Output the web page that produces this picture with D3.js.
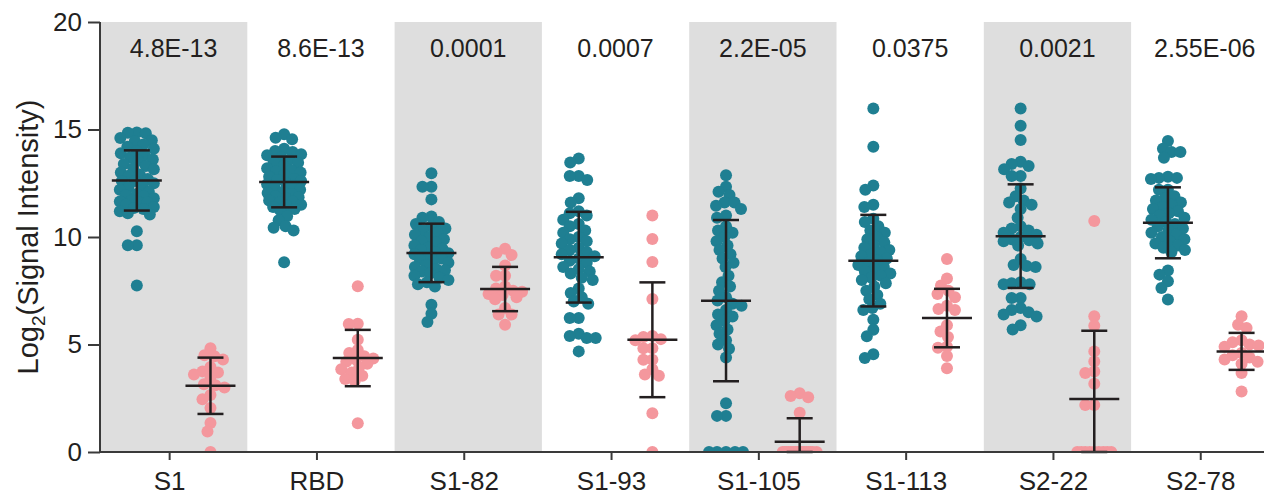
<!DOCTYPE html>
<html>
<head>
<meta charset="utf-8">
<script src="https://cdn.jsdelivr.net/npm/d3@7"></script>
<style>
  body { margin: 0; background: #fff; }
  text { font-family: "Liberation Sans", Arial, sans-serif; fill: #231f20; }
</style>
</head>
<body>
<div id="chart"></div>
<script>
// groups + p-values shown at top
var groups = ["S1", "RBD", "S1-82", "S1-93", "S1-105", "S1-113", "S2-22", "S2-78"];
var pValues = ["4.8E-13", "8.6E-13", "0.0001", "0.0007", "2.2E-05", "0.0375", "0.0021", "2.55E-06"];
var yTicks = [0, 5, 10, 15, 20];

// teal points (one list per group)
var tealS1 = [14.86, 14.85, 14.83, 14.6, 14.5, 14.45, 14.3, 14.2, 14.1, 14.0, 13.9, 13.8, 13.7, 13.6, 13.55, 13.4, 13.3, 13.2, 13.15, 13.0, 12.9, 12.85, 12.7, 12.6, 12.6, 12.5, 12.4, 12.3, 12.2, 12.1, 12.0, 11.95, 11.9, 11.8, 11.7, 11.65, 11.6, 11.6, 11.5, 11.4, 11.35, 11.3, 11.2, 11.1, 11.05, 10.27, 9.62, 9.62, 7.74];
var tealRBD = [14.78, 14.62, 14.55, 14.1, 14.0, 13.95, 13.85, 13.8, 13.7, 13.6, 13.5, 13.45, 13.3, 13.2, 13.1, 13.05, 13.0, 12.9, 12.8, 12.7, 12.65, 12.6, 12.5, 12.45, 12.4, 12.3, 12.2, 12.1, 12.05, 12.0, 11.9, 11.85, 11.8, 11.7, 11.65, 11.6, 11.5, 11.45, 11.4, 11.3, 11.25, 10.97, 10.78, 10.5, 10.43, 10.3, 8.83];
var tealS182 = [12.96, 12.34, 12.34, 11.75, 10.95, 10.9, 10.7, 10.6, 10.5, 10.4, 10.3, 10.2, 10.1, 10.0, 9.9, 9.8, 9.75, 9.6, 9.5, 9.45, 9.4, 9.3, 9.25, 9.2, 9.1, 9.0, 8.95, 8.9, 8.8, 8.7, 8.6, 8.5, 8.45, 8.4, 8.3, 8.2, 8.1, 8.0, 7.9, 7.8, 7.7, 6.85, 6.43, 6.05];
var tealS193 = [13.65, 13.46, 12.84, 12.84, 12.65, 11.8, 11.6, 11.2, 11.1, 11.0, 10.8, 10.6, 10.5, 10.3, 10.2, 10.0, 9.9, 9.8, 9.7, 9.5, 9.4, 9.3, 9.2, 9.1, 9.0, 8.9, 8.8, 8.6, 8.5, 8.4, 8.3, 8.1, 8.0, 7.6, 7.4, 7.2, 7.0, 6.9, 6.23, 6.23, 5.5, 5.4, 5.3, 5.3, 4.68];
var tealS1105 = [12.87, 12.34, 12.1, 11.95, 11.6, 11.6, 11.45, 11.3, 11.0, 10.9, 10.5, 10.3, 10.2, 10.0, 9.8, 9.6, 9.4, 9.2, 9.0, 8.8, 8.6, 8.2, 7.9, 7.7, 7.5, 7.2, 7.05, 6.9, 6.8, 6.6, 6.4, 6.3, 6.1, 5.9, 5.7, 5.5, 5.2, 5.0, 4.8, 4.4, 2.27, 1.68, 1.68, 0, 0, 0, 0, 0];
var tealS1113 = [15.98, 14.2, 12.4, 12.2, 11.5, 11.4, 10.85, 10.7, 10.5, 10.3, 10.2, 10.0, 9.9, 9.75, 9.6, 9.5, 9.4, 9.3, 9.2, 9.1, 9.0, 8.9, 8.8, 8.7, 8.6, 8.5, 8.4, 8.3, 8.2, 8.1, 8.0, 7.85, 7.7, 7.5, 7.3, 7.1, 6.9, 6.7, 6.6, 6.15, 5.69, 5.38, 4.55, 4.37];
var tealS222 = [15.98, 15.17, 14.51, 13.5, 13.4, 13.3, 13.15, 12.84, 12.84, 12.26, 11.9, 11.7, 11.6, 11.5, 11.3, 10.9, 10.5, 10.4, 10.3, 10.2, 10.1, 10.0, 9.9, 9.85, 9.8, 9.7, 9.6, 8.98, 8.7, 8.65, 8.6, 7.9, 7.85, 7.8, 7.8, 7.16, 7.16, 6.7, 6.6, 6.5, 6.4, 6.3, 5.9, 5.7];
var tealS278 = [14.47, 14.11, 13.95, 13.95, 13.69, 12.8, 12.75, 12.75, 12.7, 12.2, 12.2, 11.9, 11.8, 11.7, 11.6, 11.5, 11.4, 11.3, 11.2, 11.1, 11.0, 10.9, 10.8, 10.7, 10.6, 10.5, 10.4, 10.3, 10.2, 10.1, 10.0, 9.9, 9.8, 9.7, 9.6, 9.5, 9.4, 9.3, 8.44, 8.25, 7.94, 7.63, 7.09];

// pink points
var pinkS1 = [4.83, 4.5, 4.45, 4.3, 3.95, 3.75, 3.7, 3.6, 3.45, 3.15, 3.1, 3.0, 2.65, 2.45, 2.05, 1.35, 0.95, 0];
var pinkRBD = [7.71, 5.97, 5.95, 5.22, 4.75, 4.6, 4.45, 4.35, 4.3, 4.2, 4.1, 3.95, 3.85, 3.7, 3.55, 3.4, 3.3, 1.34];
var pinkS182 = [9.45, 9.26, 9.16, 8.67, 8.2, 8.2, 7.7, 7.6, 7.5, 7.45, 7.35, 7.3, 7.2, 7.1, 6.7, 6.39, 6.39, 5.92];
var pinkS193 = [11.0, 9.91, 8.84, 7.12, 5.4, 5.35, 5.25, 5.2, 4.83, 4.83, 4.29, 4.29, 3.85, 3.6, 3.55, 1.8, 0];
var pinkS1105 = [2.73, 2.6, 2.55, 1.83, 0, 0, 0, 0, 0, 0, 0, 0, 0, 0, 0, 0, 0, 0, 0, 0];
var pinkS1113 = [8.98, 8.07, 7.74, 7.5, 7.35, 7.2, 6.8, 6.65, 6.6, 5.9, 5.6, 5.35, 4.9, 4.85, 4.47, 3.9];
var pinkS222 = [10.74, 6.31, 5.87, 4.68, 4.21, 3.74, 3.67, 3.17, 2.19, 2.19, 0, 0, 0, 0, 0, 0, 0, 0, 0];
var pinkS278 = [6.31, 5.92, 5.77, 5.2, 5.1, 5.0, 4.95, 4.9, 4.6, 4.5, 4.4, 4.3, 4.2, 4.1, 3.67, 2.81];

// mean and SD
var tealMean = [12.63, 12.56, 9.26, 9.06, 7.04, 8.90, 10.04, 10.66];
var tealSD = [1.40, 1.18, 1.36, 2.11, 3.75, 2.13, 2.41, 1.65];
var pinkMean = [3.08, 4.37, 7.58, 5.22, 0.48, 6.23, 2.46, 4.68];
var pinkSD = [1.31, 1.31, 1.03, 2.67, 1.09, 1.36, 3.18, 0.86];

var tealAll = [tealS1, tealRBD, tealS182, tealS193, tealS1105, tealS1113, tealS222, tealS278];
var pinkAll = [pinkS1, pinkRBD, pinkS182, pinkS193, pinkS1105, pinkS1113, pinkS222, pinkS278];

var svgWidth = 1264;
var svgHeight = 497;
var plotLeft = 100, plotTop = 22, plotBottom = 452;
var groupW = 147.3;
var teal = "#1f7f92", pink = "#f4979d";
var r = 6;

var svg = d3.select("#chart")
  .append("svg")
    .attr("width", svgWidth)
    .attr("height", svgHeight);

var x = d3.scaleBand()
  .domain(groups)
  .range([plotLeft, plotLeft + groupW * groups.length])
  .padding(0);

var y = d3.scaleLinear()
  .domain([0, 20])
  .range([plotBottom, plotTop]);

// shaded bands on every other group
svg.selectAll(".band")
  .data(groups.filter((g, i) => i % 2 == 0))
  .enter()
  .append("rect")
    .attr("x", d => x(d))
    .attr("y", y(20))
    .attr("width", x.bandwidth())
    .attr("height", y(0) - y(20))
    .attr("fill", "#dedede");

// p values
svg.selectAll(".pval")
  .data(groups)
  .enter()
  .append("text")
    .attr("x", d => x(d) + x.bandwidth() / 2)
    .attr("y", 57)
    .attr("text-anchor", "middle")
    .style("font-size", "25px")
    .text((d, i) => pValues[i]);

svg.append("clipPath")
  .attr("id", "plotclip")
  .append("rect")
    .attr("x", plotLeft)
    .attr("y", 0)
    .attr("width", svgWidth)
    .attr("height", y(0));

// beeswarm: push each dot sideways until it clears the others,
// but never wider than maxW - then just take the least crowded spot
function swarm(values, cx) {
  var minD = 9, maxW = 17;
  var placed = [];
  values.slice().sort((a, b) => b - a).forEach(function(v) {
    var py = y(v);
    var best = 0, bestGap = -1;
    for (var k = 0; k <= maxW * 4; k++) {
      var off = (k % 2 == 0 ? 1 : -1) * Math.ceil(k / 2) * 0.5;
      var gap = d3.min(placed, p => Math.hypot(p.dx - off, p.y - py));
      if (gap === undefined || gap >= minD) { best = off; break; }
      if (gap > bestGap + 0.01) { bestGap = gap; best = off; }
    }
    placed.push({dx: best, y: py});
  });
  return placed.map(p => ({x: cx + p.dx, y: p.y}));
}

var dots = svg.append("g").attr("clip-path", "url(#plotclip)");
groups.forEach(function(g, i) {
  var cT = x(g) + x.bandwidth() * 0.25;
  var cP = x(g) + x.bandwidth() * 0.75;
  dots.selectAll(null)
    .data(swarm(tealAll[i], cT))
    .enter()
    .append("circle")
      .attr("cx", d => d.x)
      .attr("cy", d => d.y)
      .attr("r", r)
      .attr("fill", teal);
  dots.selectAll(null)
    .data(swarm(pinkAll[i], cP))
    .enter()
    .append("circle")
      .attr("cx", d => d.x)
      .attr("cy", d => d.y)
      .attr("r", r)
      .attr("fill", pink);
});

// mean +- SD bars
function errBar(cx, m, s) {
  var g = svg.append("g").attr("stroke", "#231f20").attr("stroke-width", 2.5);
  var lo = Math.max(0, m - s), hi = m + s;
  g.append("line").attr("x1", cx).attr("x2", cx).attr("y1", y(lo)).attr("y2", y(hi));
  g.append("line").attr("x1", cx - 25).attr("x2", cx + 25).attr("y1", y(m)).attr("y2", y(m));
  g.append("line").attr("x1", cx - 13).attr("x2", cx + 13).attr("y1", y(hi)).attr("y2", y(hi));
  g.append("line").attr("x1", cx - 13).attr("x2", cx + 13).attr("y1", y(lo)).attr("y2", y(lo));
}
groups.forEach(function(g, i) {
  errBar(x(g) + x.bandwidth() * 0.25, tealMean[i], tealSD[i]);
  errBar(x(g) + x.bandwidth() * 0.75, pinkMean[i], pinkSD[i]);
});

// axes
var yAxis = d3.axisLeft(y).tickValues(yTicks).tickSize(12).tickPadding(6);
var yG = svg.append("g")
  .attr("transform", `translate(${plotLeft}, 0)`)
  .call(yAxis);

var xAxis = d3.axisBottom(x).tickSize(8).tickPadding(12);
var xG = svg.append("g")
  .attr("transform", `translate(0, ${plotBottom})`)
  .call(xAxis);
xG.selectAll(".tick").attr("transform", d => `translate(${x(d) + x.bandwidth() / 2 - 4}, 0)`);

[yG, xG].forEach(function(a) {
  a.select(".domain").attr("stroke", "#3a3a3a").attr("stroke-width", 2);
  a.selectAll(".tick line").attr("stroke", "#3a3a3a").attr("stroke-width", 2);
  a.selectAll(".tick text").attr("fill", "#231f20")
    .style("font-family", "'Liberation Sans', Arial, sans-serif");
});
yG.selectAll(".tick text").style("font-size", "26px");
xG.selectAll(".tick text").style("font-size", "26px");
yG.select(".domain").attr("d", `M0,${y(20)}V${y(0)}`);
xG.select(".domain").attr("d", `M${plotLeft},0H${svgWidth}`);

// y label with subscript
var yl = svg.append("text")
  .attr("transform", `translate(38, ${(plotTop + plotBottom) / 2}) rotate(-90)`)
  .attr("text-anchor", "middle")
  .style("font-size", "29px");
yl.append("tspan").text("Log");
yl.append("tspan").attr("dy", 7).style("font-size", "19px").text("2");
yl.append("tspan").attr("dy", -7).text("(Signal Intensity)");
</script>
</body>
</html>
